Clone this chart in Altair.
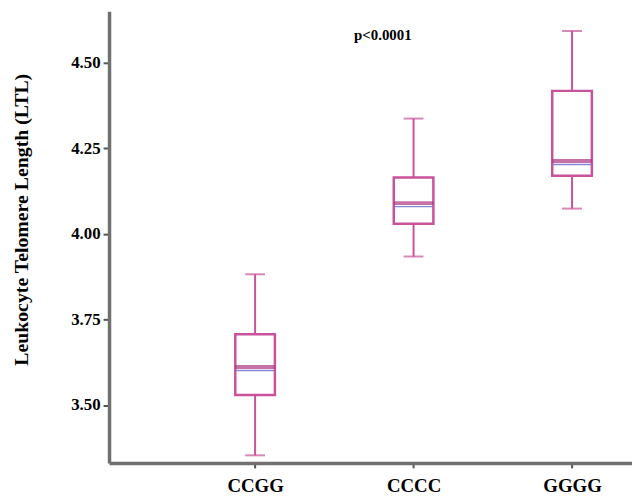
import altair as alt
import pandas as pd

# Data
groups = ["CCGG", "CCCC", "GGGG"]
whisker_low = [3.353, 3.934, 4.074]
q1 = [3.529, 4.030, 4.170]
median = [3.611, 4.090, 4.213]
q3 = [3.707, 4.165, 4.418]
whisker_high = [3.882, 4.337, 4.593]
y_ticks = [3.50, 3.75, 4.00, 4.25, 4.50]
p_text = "p<0.0001"
p_pos_group = "CCCC"
p_pos_value = 4.581

df = pd.DataFrame({
    "group": groups,
    "lo": whisker_low,
    "q1": q1,
    "med": median,
    "q3": q3,
    "hi": whisker_high,
})
ann = pd.DataFrame({"group": [p_pos_group], "v": [p_pos_value], "t": [p_text]})

PINK = "#c9529a"
MED = "#ad3581"
BLUE = "#5553c8"
FONT = "Liberation Serif"

xscale = alt.Scale(type="point", domain=groups, padding=0.65, align=0.709)
yscale = alt.Scale(domain=[3.3307, 4.6505], zero=False, nice=False)

x = alt.X("group:N", scale=xscale, sort=groups,
          axis=alt.Axis(title=None, labelAngle=0, labelFontSize=19,
                        labelPadding=9, tickSize=5))
y = alt.Y("lo:Q", scale=yscale,
          axis=alt.Axis(title="Leukocyte Telomere Length (LTL)", values=y_ticks,
                        format=".2f", labelFontSize=17, labelPadding=3,
                        tickSize=6, titleFontSize=20, titleX=-88, titleY=210,
                        titleBaseline="middle", titleAlign="center", titleAngle=-90))

base = alt.Chart(df)

whisk = base.mark_rule(color=PINK, strokeWidth=2).encode(x=x, y=y, y2="hi:Q")
box = base.mark_bar(size=40, fill="white", stroke=PINK, strokeWidth=2.5).encode(
    x=x, y=alt.Y("q1:Q", scale=yscale), y2="q3:Q")
cap_lo = base.mark_tick(color=PINK, size=20, thickness=2).encode(
    x=x, y=alt.Y("lo:Q", scale=yscale))
cap_hi = base.mark_tick(color=PINK, size=20, thickness=2).encode(
    x=x, y=alt.Y("hi:Q", scale=yscale))
med_blue = base.mark_tick(color=BLUE, size=38, thickness=1.3, yOffset=3.5).encode(
    x=x, y=alt.Y("med:Q", scale=yscale))
med = base.mark_tick(color=MED, size=40, thickness=4).encode(
    x=x, y=alt.Y("med:Q", scale=yscale))
ptext = alt.Chart(ann).mark_text(font=FONT, fontWeight="bold", fontSize=15,
                                 color="black", dx=-31, baseline="middle").encode(
    x=alt.X("group:N", scale=xscale, sort=groups),
    y=alt.Y("v:Q", scale=yscale), text="t:N")

chart = alt.layer(whisk, box, cap_lo, cap_hi, med_blue, med, ptext).properties(
    width=528, height=456,
    autosize=alt.AutoSizeParams(type="none"),
    padding={"left": 102, "top": 1, "right": 0, "bottom": 30},
).configure_view(stroke=None).configure_axis(
    grid=False,
    domainColor="#707070", domainWidth=3.5,
    tickColor="#555555", tickWidth=2,
    labelFont=FONT, labelFontWeight="bold", labelColor="black",
    titleFont=FONT, titleFontWeight="bold", titleColor="black",
)

chart.save("out.html", embed_options={"renderer": "svg", "actions": False})
